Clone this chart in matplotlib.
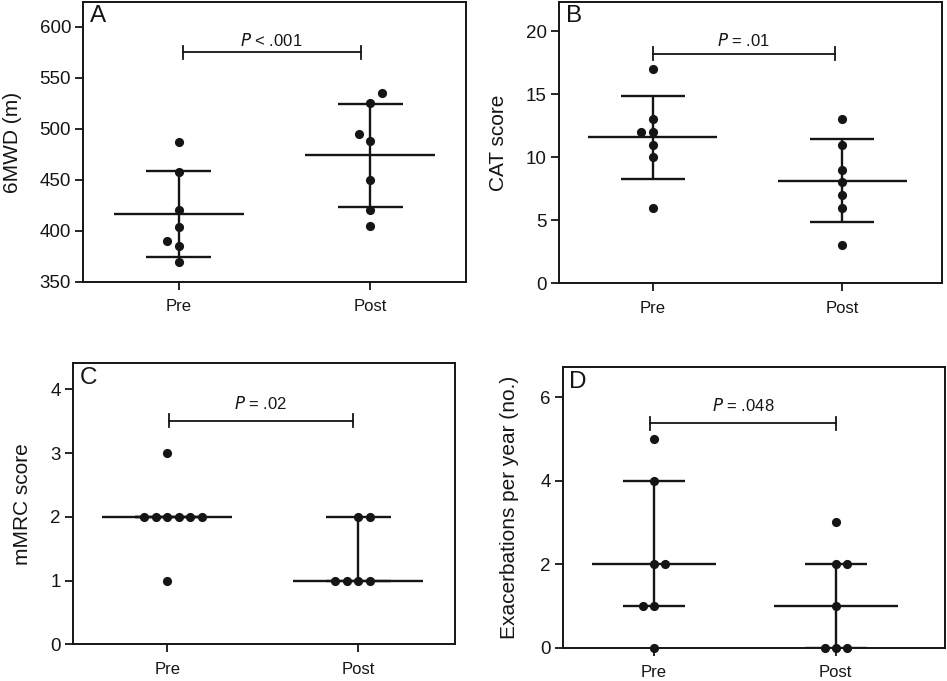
import numpy as np
import matplotlib
matplotlib.use("Agg")
import matplotlib.pyplot as plt

plt.rcParams['font.family'] = ['Liberation Sans', 'DejaVu Sans']

groups = ["Pre", "Post"]

# panel A - 6MWD (m), mean +/- SD
mwd_pre = [487, 458, 420, 404, 390, 385, 370]
mwd_post = [535, 525, 495, 488, 450, 420, 405]
# panel B - CAT score, mean +/- SD
cat_pre = [17, 13, 12, 12, 11, 10, 6]
cat_post = [13, 11, 9, 8, 7, 6, 3]
# panel C - mMRC score, median + IQR
mmrc_pre = [3, 2, 2, 2, 2, 2, 2, 1]
mmrc_post = [2, 2, 1, 1, 1, 1]
# panel D - exacerbations per year, median + IQR
exac_pre = [5, 4, 2, 2, 1, 1, 0]
exac_post = [3, 2, 2, 1, 0, 0, 0]

p_labels = ["< .001", "= .01", "= .02", "= .048"]

# beeswarm slots (side-by-side position of overlapping dots)
slots = {
    "A": ([0, 0, 0, 0, -1, 0, 0], [1, 0, -1, 0, 0, 0, 0]),
    "B": ([0, 0, -1, 0, 0, 0, 0], [0, 0, 0, 0, 0, 0, 0]),
    "C": ([0, -2, -1, 0, 1, 2, 3, 0], [0, 1, -2, -1, 0, 1]),
    "D": ([0, 0, 0, 1, -1, 0, 0], [0, 0, 1, 0, -1, 0, 1]),
}

INK = "#151515"
DOT_STEP = 0.06


def mean_sd(v):
    v = np.asarray(v, float)
    m = v.mean()
    s = v.std(ddof=1)
    return m, m - s, m + s


def median_iqr(v):
    v = np.asarray(v, float)
    q1, med, q3 = np.percentile(v, [25, 50, 75], method="weibull")
    return med, q1, q3


def panel(ax, letter, pre, post, stat, ylim, yticks, ylabel, xlim,
          p_text, bar_y, text_y, bar_x, label_x):
    for i, (vals, sl) in enumerate(zip([pre, post], slots[letter])):
        c, lo, hi = stat(vals)
        kw = dict(color=INK, lw=1.7, zorder=2, solid_capstyle="butt")
        ax.plot([i - 0.34, i + 0.34], [c, c], **kw)
        ax.plot([i - 0.17, i + 0.17], [lo, lo], **kw)
        ax.plot([i - 0.17, i + 0.17], [hi, hi], **kw)
        ax.plot([i, i], [lo, hi], **kw)
        xs = i + np.array(sl) * DOT_STEP
        ax.plot(xs, vals, "o", color=INK, ms=6.6, mew=0, zorder=3,
                clip_on=False)

    # significance bracket
    tick = 0.023 * (ylim[1] - ylim[0])
    x0, x1 = bar_x
    ax.plot([x0, x1], [bar_y, bar_y], color=INK, lw=1.3)
    ax.plot([x0, x0], [bar_y - tick, bar_y + tick], color=INK, lw=1.3)
    ax.plot([x1, x1], [bar_y - tick, bar_y + tick], color=INK, lw=1.3)
    ax.text((x0 + x1) / 2, text_y, r"$\it{P}$ " + p_text, ha="center",
            va="baseline", fontsize=12, color=INK)

    ax.text(0.018, 0.988, letter, transform=ax.transAxes, ha="left",
            va="top", fontsize=17.5, color=INK)

    ax.set_xlim(*xlim)
    ax.set_ylim(*ylim)
    ax.set_xticks([0, 1])
    ax.set_xticklabels(groups, fontsize=12)
    ax.set_yticks(yticks)
    ax.tick_params(axis="y", labelsize=13.5, length=5.5, width=1.3, pad=3,
                   colors=INK)
    ax.tick_params(axis="x", length=5.5, width=1.3, pad=7, colors=INK)
    ax.set_ylabel(ylabel, fontsize=15, color=INK)
    ax.yaxis.set_label_coords(label_x, 0.5)
    for sp in ax.spines.values():
        sp.set_linewidth(1.4)
        sp.set_color(INK)


fig = plt.figure(figsize=(9.47, 6.81), dpi=100)
axA = fig.add_axes([0.0876, 0.586, 0.4044, 0.411])
axB = fig.add_axes([0.590, 0.584, 0.405, 0.413])
axC = fig.add_axes([0.0768, 0.054, 0.4037, 0.4125])
axD = fig.add_axes([0.594, 0.049, 0.404, 0.4117])

panel(axA, "A", mwd_pre, mwd_post, mean_sd, (350, 624),
      np.arange(350, 601, 50), "6MWD (m)", (-0.5, 1.5),
      p_labels[0], 575, 581, (0.02, 0.95), -0.16)
panel(axB, "B", cat_pre, cat_post, mean_sd, (0, 22.3),
      np.arange(0, 21, 5), "CAT score", (-0.496, 1.528),
      p_labels[1], 18.2, 18.8, (0.0, 0.96), -0.133)
panel(axC, "C", mmrc_pre, mmrc_post, median_iqr, (0, 4.41),
      np.arange(0, 5, 1), "mMRC score", (-0.494, 1.506),
      p_labels[2], 3.51, 3.70, (0.01, 0.97), -0.106)
panel(axD, "D", exac_pre, exac_post, median_iqr, (0, 6.72),
      np.arange(0, 7, 2), "Exacerbations per year (no.)", (-0.5, 1.6),
      p_labels[3], 5.38, 5.66, (-0.02, 1.0), -0.113)

fig.savefig("out.png", dpi=100, facecolor="white")
